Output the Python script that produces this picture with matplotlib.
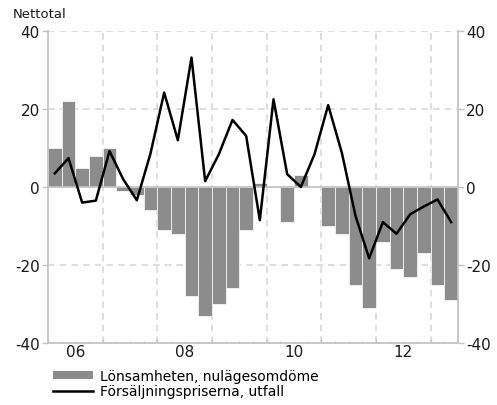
import numpy as np
import matplotlib.pyplot as plt
from matplotlib.patches import Patch
from matplotlib.lines import Line2D

plt.rcParams['font.family'] = 'DejaVu Sans'
plt.rcParams['axes.unicode_minus'] = False

# Quarterly data, 2006 Q1 - 2013 Q2
lonsamhet = [10, 22, 5, 8, 10, -1, -2, -6, -11, -12, -28, -33, -30, -26, -11,
             1, 0, -9, 3, 0, -10, -12, -25, -31, -14, -21, -23, -17, -25, -29]
forsaljning = [3.5, 7.4, -4, -3.5, 9.2, 2, -3.4, 8.6, 24.2, 12, 33.2, 1.5, 8.4, 17.2, 13.1,
               -8.5, 22.5, 3.3, 0, 8.4, 21, 8.8, -7.4, -18.3, -9, -12, -7, -5, -3.2, -9]
year_labels = ['06', '08', '10', '12']
yticks = [-40, -20, 0, 20, 40]

bar_color = '#8c8c8c'
grid_color = '#d9d9d9'
spine_color = '#c4c4c4'

fig = plt.figure(figsize=(4.97, 4.06), dpi=100)
ax = fig.add_axes([48 / 497, 1 - 344 / 406, 410 / 497, 312 / 406])

x = np.arange(len(lonsamhet)) + 0.5
ax.bar(x, lonsamhet, width=1.0, color=bar_color, edgecolor='white', linewidth=0.5, zorder=2)
ax.axhline(0, color=spine_color, lw=1.3, zorder=3)
ax.plot(x, forsaljning, color='black', lw=1.8, zorder=4)

ax.set_xlim(0, len(lonsamhet))
ax.set_ylim(-40, 40)

# grid: dashed, years and every 20
for yv in [-20, 20, 40]:
    ax.axhline(yv, color=grid_color, lw=1.2, ls=(0, (4, 3)), zorder=1)
for xv in range(4, len(lonsamhet), 4):
    ax.axvline(xv, color=grid_color, lw=1.2, ls=(0, (4, 3)), zorder=1)

ax.spines['top'].set_visible(False)
for s in ['left', 'right', 'bottom']:
    ax.spines[s].set_color(spine_color)
    ax.spines[s].set_linewidth(1.3)

ax.set_yticks(yticks)
ax.tick_params(axis='y', left=True, right=True, labelleft=True, labelright=True,
               length=4, width=1, color=spine_color, labelsize=11, pad=2,
               labelcolor='#1a1a1a')

ax.set_xticks(range(0, len(lonsamhet) + 1, 4))
ax.set_xticks(range(0, len(lonsamhet) + 1), minor=True)
ax.tick_params(axis='x', which='major', direction='in', length=3, width=1,
               color=spine_color, labelbottom=False)
ax.tick_params(axis='x', which='minor', direction='in', length=1.5, width=1,
               color=spine_color)

sec = ax.secondary_xaxis('bottom')
sec.set_xticks([2, 10, 18, 26])
sec.set_xticklabels(year_labels)
sec.tick_params(length=0, labelsize=11, pad=1, labelcolor='#1a1a1a')
sec.spines['bottom'].set_visible(False)

fig.text(13 / 497, 1 - 15 / 406, 'Nettotal', fontsize=9.5, va='center', ha='left',
         color='#1a1a1a')

handles = [Patch(facecolor=bar_color, edgecolor='none'),
           Line2D([0], [0], color='black', lw=1.8)]
labels = ['Lönsamheten, nulägesomdöme', 'Försäljningspriserna, utfall']
fig.legend(handles, labels, loc='upper left', bbox_to_anchor=(53 / 497, 1 - 370 / 406),
           frameon=False, fontsize=10, handlelength=2.9, handleheight=0.5,
           handletextpad=0.45, labelspacing=0.1, borderpad=0, borderaxespad=0)

fig.savefig('out.png', dpi=100)
